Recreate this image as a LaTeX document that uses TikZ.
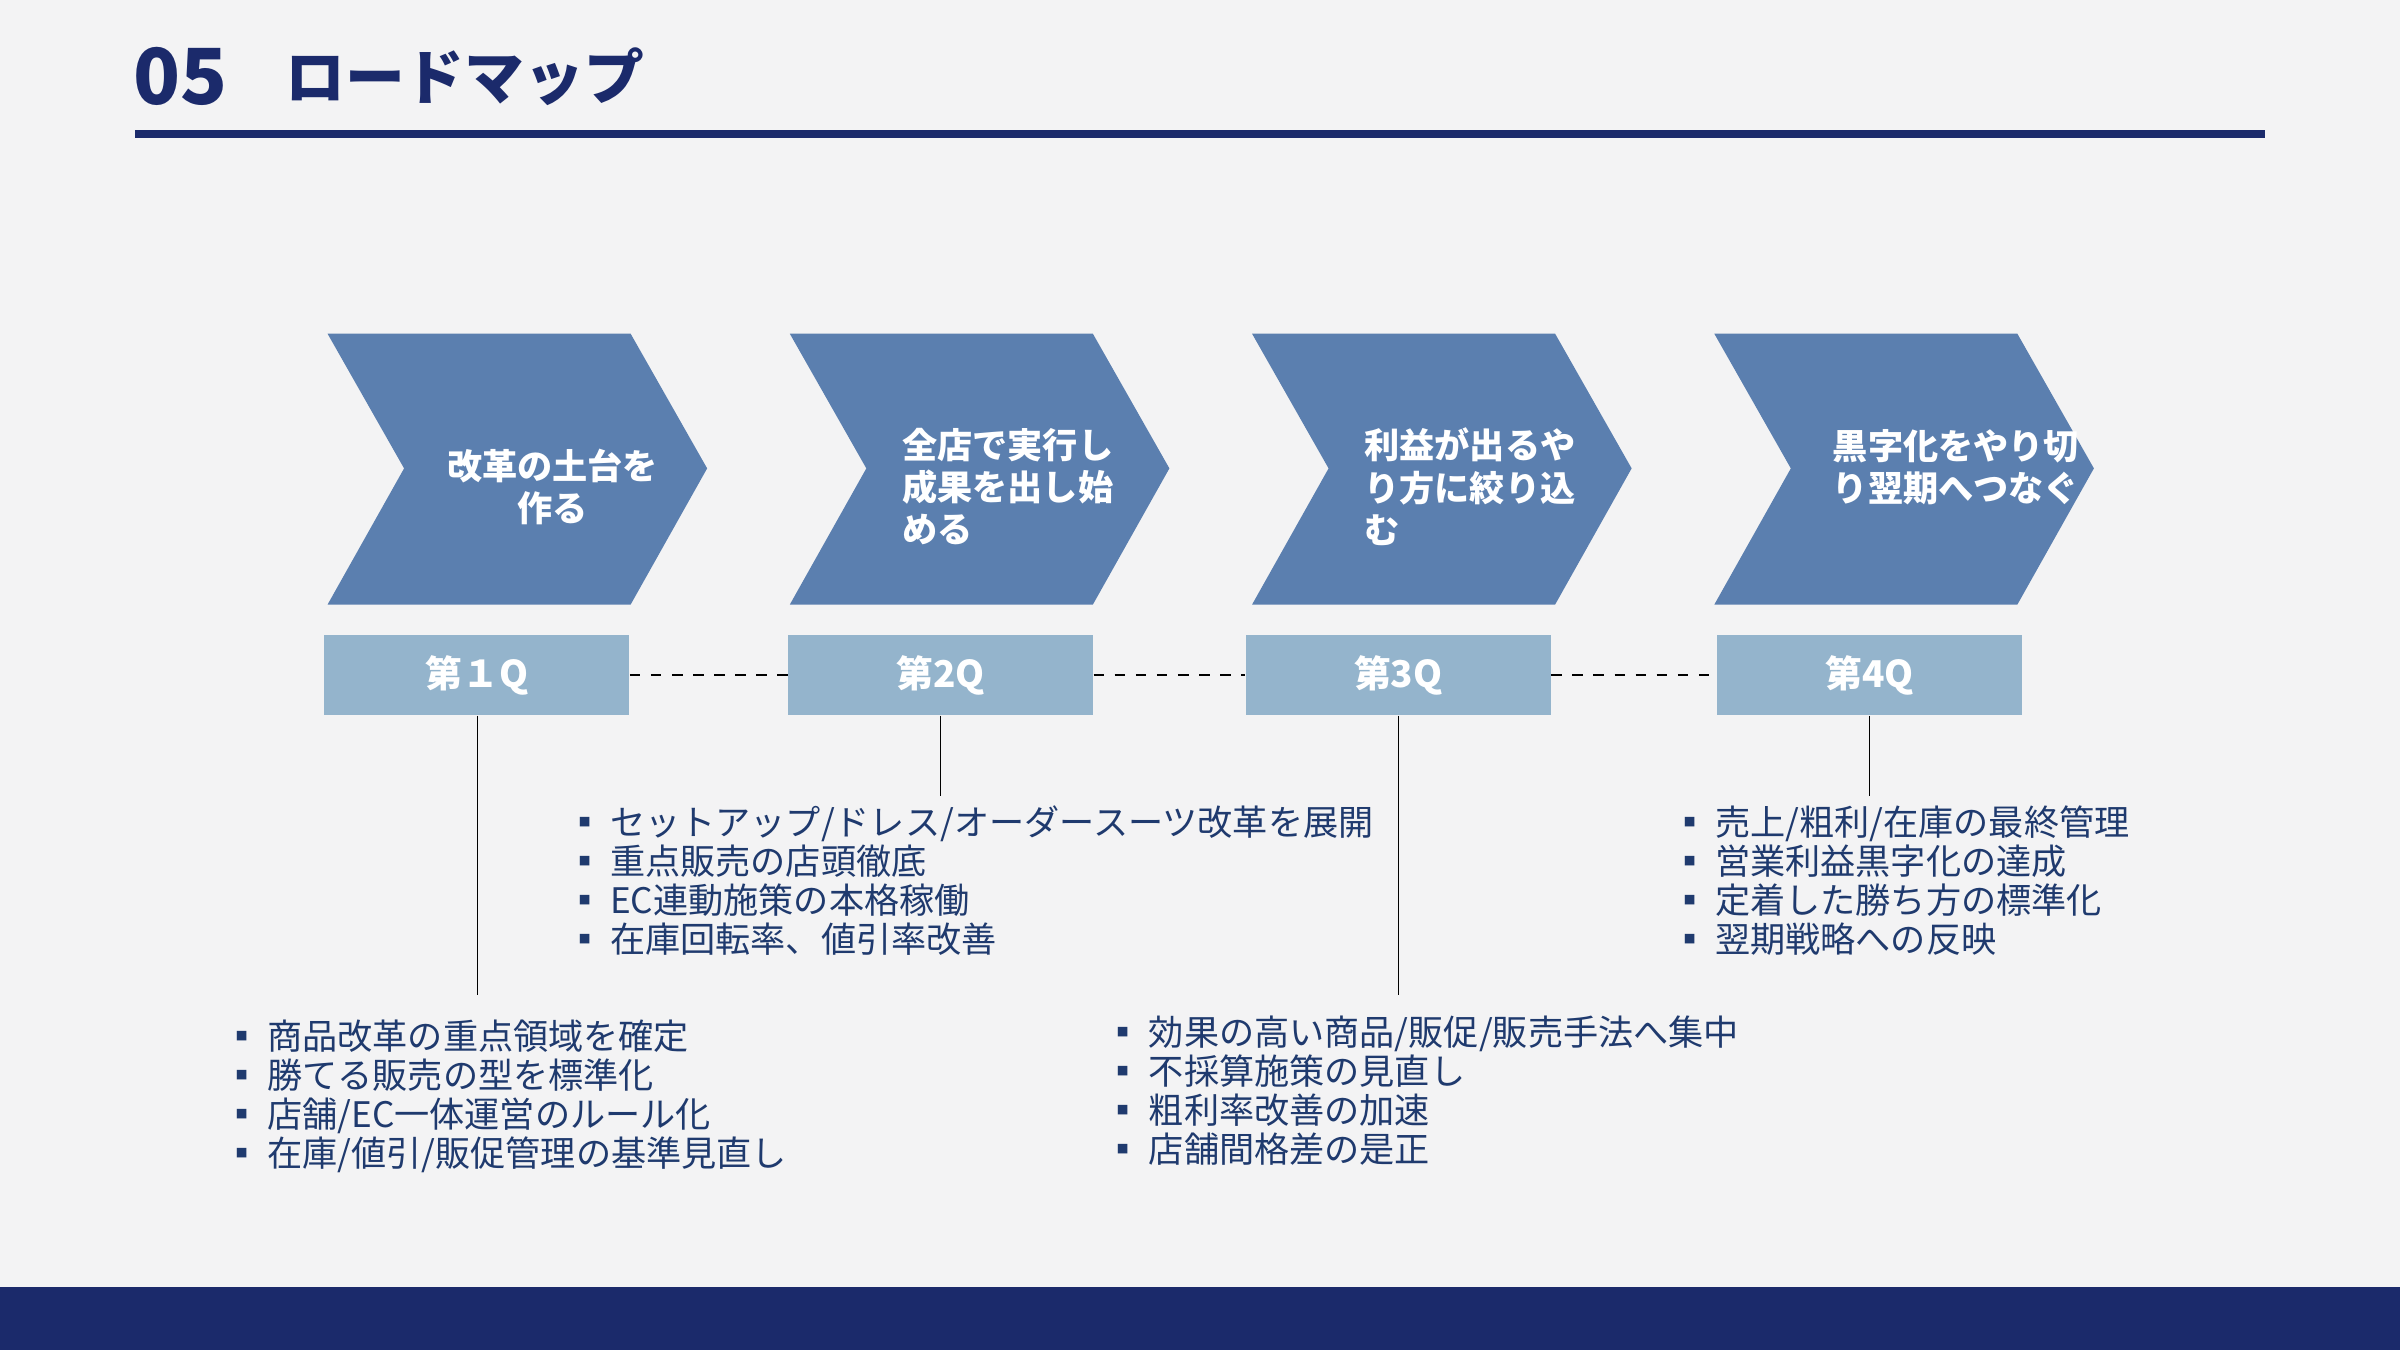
\documentclass[tikz,border=0pt]{standalone}
\usepackage{fontspec}
\setmainfont{Noto Sans CJK JP}
\usetikzlibrary{calc}
\definecolor{navy}{HTML}{1B2A6B}
\definecolor{chev}{HTML}{5B7FAF}
\definecolor{qbox}{HTML}{94B4CC}
\definecolor{bg}{HTML}{F3F3F4}
\definecolor{txt}{HTML}{1F3A6E}

\begin{document}
\begin{tikzpicture}
      [x=0.153mm,y=-0.153mm
      ,chevron/.style={fill=chev,draw=none}
      ,chevtext/.style={text=white,font=\bfseries\fontsize{10}{12}\selectfont,align=left,inner sep=0pt}
      ,qlabel/.style={fill=qbox,minimum width=199*0.153mm,minimum height=52*0.153mm,inner sep=0pt,text=white,font=\bfseries\fontsize{10.5}{12}\selectfont}
      ,blist/.style={anchor=north west,align=left,text=txt,inner sep=0pt,font=\fontsize{10}{11.1}\selectfont}
      ,qdash/.style={thick,dashed,black}
      ,stem/.style={thin,black}
      ]
        \fill[bg] (0,0) rectangle (1568,882);
        \useasboundingbox (0,0) rectangle (1568,882);

        % header
        \node[anchor=west,text=navy,font=\bfseries\fontsize{22}{24}\selectfont,inner sep=0pt] (num) at (87,50) {05};
        \node[anchor=west,text=navy,font=\bfseries\fontsize{17}{20}\selectfont,inner sep=0pt] (title) at (186,50) {ロードマップ};
        \fill[navy] (88,85) rectangle (1480,90);
        \fill[navy] (0,841) rectangle (1568,882);

        % chevrons
        \foreach \x in {214,516,818,1120}
        {
            \filldraw[chevron] (\x,218) -- +(198,0) -- +(248,88) -- +(198,177) -- +(0,177) -- +(50,88) -- cycle;
        }
        \node[chevtext,align=center] (c1) at (361,318) {改革の土台を\\作る};
        \node[chevtext,anchor=west] (c2) at (589,318) {全店で実行し\\成果を出し始\\める};
        \node[chevtext,anchor=west] (c3) at (891,318) {利益が出るや\\り方に絞り込\\む};
        \node[chevtext,anchor=west] (c4) at (1197,305) {黒字化をやり切\\り翌期へつなぐ};

        % quarters
        \node[qlabel] (q1) at (311.5,441) {第１Q};
        \node[qlabel] (q2) at (614.5,441) {第2Q};
        \node[qlabel] (q3) at (913.5,441) {第3Q};
        \node[qlabel] (q4) at (1221.5,441) {第4Q};
        \draw[qdash] (q1) -- (q2);
        \draw[qdash] (q2) -- (q3);
        \draw[qdash] (q3) -- (q4);

        \coordinate (e1) at (312,650);
        \coordinate (e2) at (614.5,520);
        \coordinate (e3) at (913.5,650);
        \coordinate (e4) at (1221.5,520);
        \draw[stem] (q1.south -| e1) -- (e1);
        \draw[stem] (q2.south) -- (e2);
        \draw[stem] (q3.south) -- (e3);
        \draw[stem] (q4.south) -- (e4);

        % lists
        \node[blist] (l1) at (146,666) {▪ 商品改革の重点領域を確定\\▪ 勝てる販売の型を標準化\\▪ 店舗/EC一体運営のルール化\\▪ 在庫/値引/販促管理の基準見直し};
        \node[blist] (l2) at (370,526) {▪ セットアップ/ドレス/オーダースーツ改革を展開\\▪ 重点販売の店頭徹底\\▪ EC連動施策の本格稼働\\▪ 在庫回転率、値引率改善};
        \node[blist] (l3) at (722,663) {▪ 効果の高い商品/販促/販売手法へ集中\\▪ 不採算施策の見直し\\▪ 粗利率改善の加速\\▪ 店舗間格差の是正};
        \node[blist] (l4) at (1092,526) {▪ 売上/粗利/在庫の最終管理\\▪ 営業利益黒字化の達成\\▪ 定着した勝ち方の標準化\\▪ 翌期戦略への反映};
\end{tikzpicture}
\end{document}
